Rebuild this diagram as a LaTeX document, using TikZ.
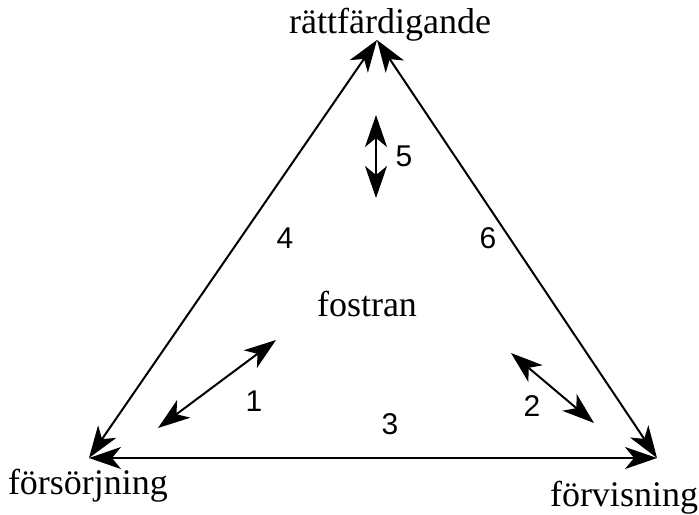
\documentclass[tikz,border=0pt]{standalone}
\usepackage{fontspec}
\setmainfont{Liberation Serif}
\setsansfont{Liberation Sans}
\usetikzlibrary{arrows.meta}
\begin{document}
\begin{tikzpicture}[x=0.5pt,y=-0.5pt,
  conn/.style={line width=1pt,{Stealth[length=16pt,width=11pt,inset=4.5pt]}-{Stealth[length=16pt,width=11pt,inset=4.5pt]}},
  corner/.style={font=\fontsize{18}{20}\selectfont,anchor=base,inner sep=0pt},
  num/.style={font=\sffamily\fontsize{15}{17}\selectfont,inner sep=0pt}]
\useasboundingbox (0,0) rectangle (699,514);
\coordinate (T) at (377,40);
\coordinate (L) at (89,458);
\coordinate (R) at (657,458);
\draw[conn] (T) -- (L);
\draw[conn] (T) -- (R);
\draw[conn] (L) -- (R);
\coordinate (a5) at (376,115);
\coordinate (b5) at (376,198);
\draw[conn] (a5) -- (b5);
\coordinate (a1) at (276,340);
\coordinate (b1) at (158,428);
\draw[conn] (a1) -- (b1);
\coordinate (a2) at (511,353);
\coordinate (b2) at (594,423);
\draw[conn] (a2) -- (b2);
\node[corner] (rt) at (390,33) {rättfärdigande};
\node[corner] (fs) at (88,494) {försörjning};
\node[corner] (fv) at (624,506) {förvisning};
\node[corner] (fo) at (367,316) {fostran};
\node[num] (n1) at (254,401) {1};
\node[num] (n2) at (532,406) {2};
\node[num] (n3) at (390,424) {3};
\node[num] (n4) at (285,238) {4};
\node[num] (n5) at (404,156) {5};
\node[num] (n6) at (488,238) {6};
\end{tikzpicture}
\end{document}
